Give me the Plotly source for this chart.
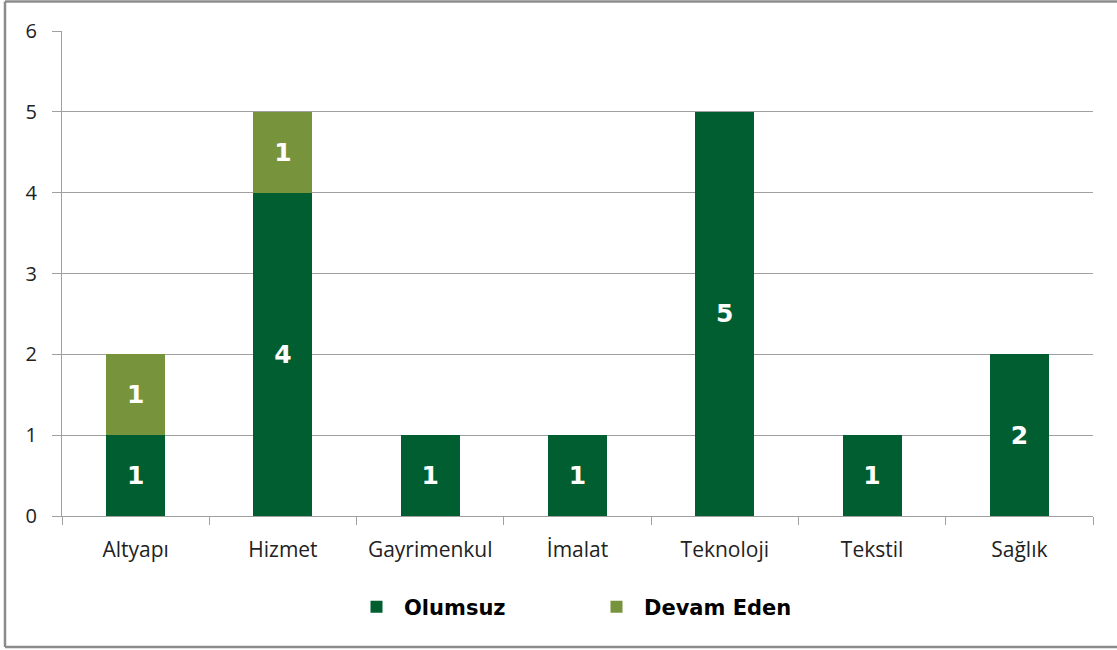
import plotly.graph_objects as go

categories = ["Altyapı", "Hizmet", "Gayrimenkul", "İmalat", "Teknoloji", "Tekstil", "Sağlık"]
olumsuz = [1, 4, 1, 1, 5, 1, 2]
devam_eden = [1, 1, None, None, None, None, None]
y_ticks = [0, 1, 2, 3, 4, 5, 6]

W, H = 1117, 650
L, R, T, B = 62, 1093, 31, 516

def px_x(px):
    return (px - L) / (R - L)

def px_y(py):
    return (B - py) / (B - T)

label_font = dict(family="DejaVu Sans", size=25, color="white")

fig = go.Figure()
fig.add_trace(go.Bar(
    x=categories, y=olumsuz, name="Olumsuz",
    marker=dict(color="#005E30", line=dict(width=0)),
    texttemplate="<b>%{y}</b>", textposition="inside", insidetextanchor="middle",
    textangle=0, textfont=label_font,
))
fig.add_trace(go.Bar(
    x=categories, y=devam_eden, name="Devam Eden",
    marker=dict(color="#77933C", line=dict(width=0)),
    texttemplate="<b>%{y}</b>", textposition="inside", insidetextanchor="middle",
    textangle=0, textfont=label_font,
))

border = dict(color="#8C8C8C", width=2.5)
bx0, bx1, by0, by1 = px_x(5), px_x(1130), px_y(647), px_y(1.5)

fig.update_layout(
    width=W, height=H,
    barmode="stack", bargap=0.6,
    margin=dict(l=L, r=W - R, t=T, b=H - B),
    paper_bgcolor="white", plot_bgcolor="white",
    showlegend=True,
    legend=dict(
        orientation="h", x=px_x(589), xanchor="center", y=px_y(607), yanchor="middle",
        font=dict(family="DejaVu Sans", size=21, color="black", weight="bold"),
        entrywidth=180, itemwidth=45, traceorder="normal",
    ),
    xaxis=dict(
        type="category", tickson="boundaries", ticks="outside", ticklen=8,
        tickcolor="#A0A0A0", tickwidth=1,
        showline=True, linecolor="#A0A0A0", linewidth=1,
        showgrid=False,
        tickfont=dict(family="Open Sans", size=21, color="#222222"),
        ticklabelstandoff=15,
    ),
    yaxis=dict(
        range=[0, 6], tickvals=y_ticks, ticks="outside", ticklen=9,
        tickcolor="#A0A0A0", tickwidth=1,
        showline=True, linecolor="#A0A0A0", linewidth=1,
        showgrid=True, gridcolor="#A0A0A0", gridwidth=1,
        zeroline=False,
        tickfont=dict(family="Open Sans", size=20, color="#222222"),
        ticklabelstandoff=11,
    ),
    shapes=[
        dict(type="line", xref="paper", yref="paper", x0=bx0, x1=bx0, y0=by0, y1=by1, line=border, layer="above"),
        dict(type="line", xref="paper", yref="paper", x0=bx0, x1=bx1, y0=by1, y1=by1, line=border, layer="above"),
        dict(type="line", xref="paper", yref="paper", x0=bx0, x1=bx1, y0=by0, y1=by0, line=border, layer="above"),
    ],
)

fig.write_html("out.html", config={"displayModeBar": False},
               post_script="document.body.style.margin='0';document.body.style.overflow='hidden';")
